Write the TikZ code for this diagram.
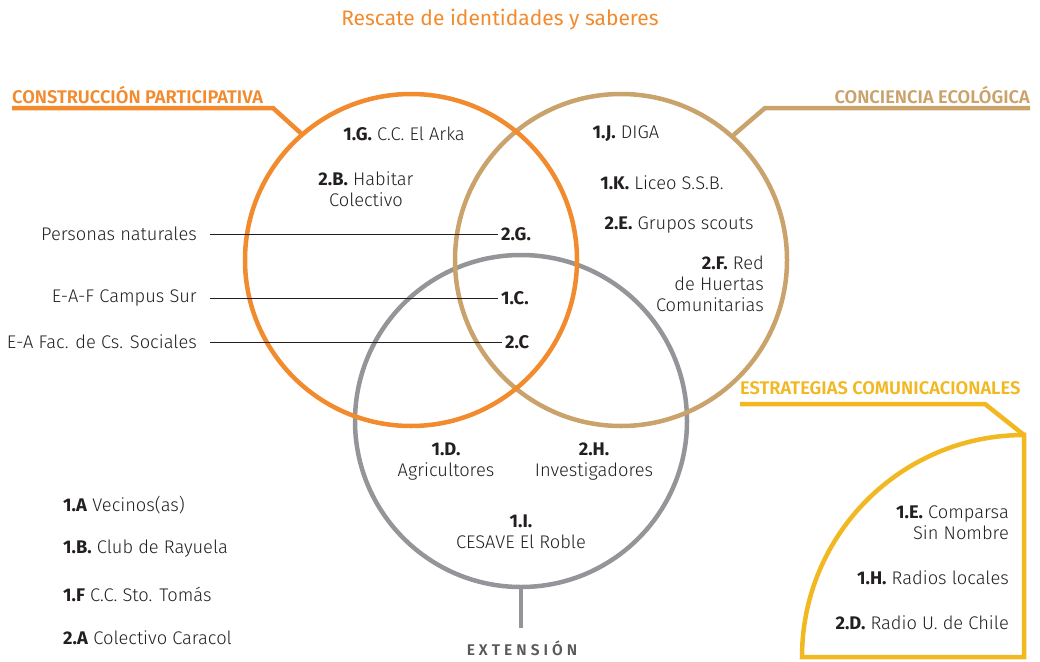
\documentclass[tikz,border=0pt]{standalone}
\usepackage{fontspec}
\setmainfont{Fira Sans}[UprightFont=* Light, BoldFont=* Bold]
\newfontfamily\regular{Fira Sans}
\newfontfamily\semib{Fira Sans SemiBold}
\usepackage{color}
\definecolor{naranja}{HTML}{F28A2E}
\definecolor{tierra}{HTML}{C9A36B}
\definecolor{gris}{HTML}{939598}
\definecolor{amarillo}{HTML}{F2B822}
\definecolor{tinta}{HTML}{231F20}
\definecolor{grisosc}{HTML}{58595B}
\tikzset{
  ambito/.style={circle,draw,line width=4.5pt,minimum size=332pt,inner sep=0pt},
  txt/.style={font=\fontsize{18.3}{21}\selectfont,text=tinta,inner sep=1pt},
  rotulo/.style={font=\semib\fontsize{18.3}{20}\selectfont,inner sep=0pt},
  barra/.style={line width=4.5pt},
  guia/.style={line width=0.8pt,tinta,shorten <=12pt,shorten >=2pt}
}

\begin{document}
\begin{tikzpicture}[x=1pt,y=-1pt]
	\useasboundingbox (0,0) rectangle (1040,661);
	% circulos
	\node[ambito,gris] (ex) at (521,421) {};
	\node[ambito,tierra] (ce) at (621,260) {};
	\node[ambito,naranja] (cp) at (411,260) {};
	\node[font=\regular\fontsize{21}{24}\selectfont,text=naranja] (rescate) at (500,20) {Rescate de identidades y saberes};
	% rotulos
	\node[rotulo,text=naranja,anchor=west] (tcp) at (12,95) {CONSTRUCCIÓN PARTICIPATIVA};
	\coordinate (cp1) at (12,108);
	\coordinate (cp2) at (273,108);
	\draw[barra,naranja] (cp1)--(cp2)--(cp.131);
	\node[rotulo,text=tierra,anchor=east] (tce) at (1030,95) {CONCIENCIA ECOLÓGICA};
	\coordinate (ce1) at (1030,108);
	\coordinate (ce2) at (765,108);
	\draw[barra,tierra] (ce1)--(ce2)--(ce.48);
	\node[rotulo,text=amarillo,anchor=west] (tec) at (740,388) {ESTRATEGIAS COMUNICACIONALES};
	\coordinate (ec1) at (740,404);
	\coordinate (ec2) at (985,404);
	\coordinate (ec3) at (1024,435);
	\draw[barra,amarillo] (ec1)--(ec2)--(ec3);
	\draw[barra,amarillo,line join=miter] (ec3)--(1024,657)--(802,657) arc[start angle=180,end angle=270,radius=222]--cycle;
	\coordinate (exstem) at (521,628);
	\draw[gris,line width=4pt] (ex.south)--(exstem);
	\node[font=\semib\fontsize{15.5}{18}\selectfont\addfontfeatures{LetterSpace=26},text=grisosc] (tex) at (522,648) {EXTENSIÓN};
	% construccion participativa
	\node[txt] (g1) at (404,134) {\textbf{1.G.} C.C. El Arka};
	\node[txt,align=center] (b2) at (366,189) {\textbf{2.B.} Habitar\\Colectivo};
	% conciencia ecologica
	\node[txt] (j1) at (626,134) {\textbf{1.J.} DIGA};
	\node[txt] (k1) at (662,183) {\textbf{1.K.} Liceo S.S.B.};
	\node[txt] (e2) at (679,225) {\textbf{2.E.} Grupos scouts};
	\node[txt,align=right,anchor=east] (f2) at (765,284) {\textbf{2.F.} Red\\de Huertas\\Comunitarias};
	% extension
	\node[txt,align=center] (d1) at (446,462) {\textbf{1.D.}\\Agricultores};
	\node[txt,align=center] (h2) at (594,462) {\textbf{2.H.}\\Investigadores};
	\node[txt,align=center] (i1) at (521,532) {\textbf{1.I.}\\CESAVE El Roble};
	% guias
	\node[txt,anchor=east] (pn) at (198,234) {Personas naturales};
	\node[txt,anchor=west] (g2) at (500,234) {\textbf{2.G.}};
	\draw[guia] (pn)--(g2);
	\node[txt,anchor=east] (cs) at (198,298) {E-A-F Campus Sur};
	\node[txt,anchor=west] (c1) at (500,298) {\textbf{1.C.}};
	\draw[guia] (cs)--(c1);
	\node[txt,anchor=east] (fcs) at (198,342) {E-A Fac. de Cs. Sociales};
	\node[txt,anchor=west] (c2) at (504,342) {\textbf{2.C}};
	\draw[guia] (fcs)--(c2);
	% lista
	\node[txt,anchor=west] (a1) at (62,505) {\textbf{1.A} Vecinos(as)};
	\node[txt,anchor=west] (b1) at (62,549) {\textbf{1.B.} Club de Rayuela};
	\node[txt,anchor=west] (f1) at (62,594) {\textbf{1.F} C.C. Sto. Tomás};
	\node[txt,anchor=west] (a2) at (62,638) {\textbf{2.A} Colectivo Caracol};
	% estrategias comunicacionales
	\node[txt,align=right,anchor=east] (e1) at (1010,523) {\textbf{1.E.} Comparsa\\Sin Nombre};
	\node[txt,anchor=east] (h1) at (1010,578) {\textbf{1.H.} Radios locales};
	\node[txt,anchor=east] (d2) at (1010,623) {\textbf{2.D.} Radio U. de Chile};
\end{tikzpicture}
\end{document}
